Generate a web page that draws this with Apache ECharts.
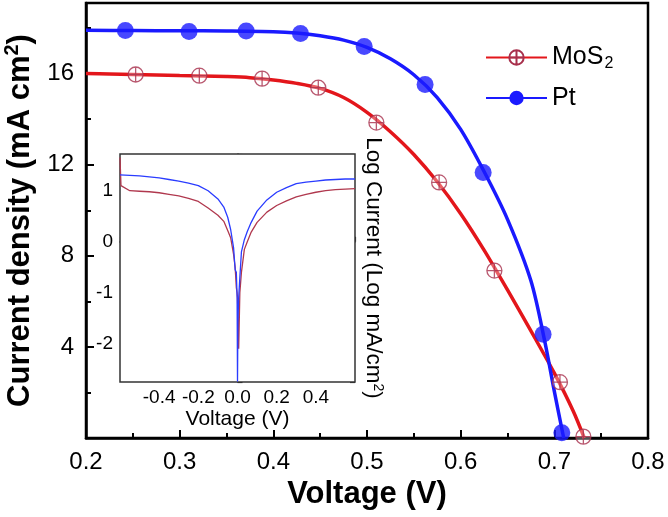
<!DOCTYPE html>
<html><head><meta charset="utf-8">
<script src="https://cdn.jsdelivr.net/npm/echarts@6/dist/echarts.min.js"></script>
<style>html,body{margin:0;padding:0;background:#fff}#c{width:668px;height:517px}</style>
</head><body><div id="c"></div>
<script>
// Main J-V fitted curves
const mosCurveV = [0.2,0.225,0.25,0.275,0.3,0.325,0.35,0.375,0.4,0.425,0.45,0.475,0.5,0.525,0.55,0.575,0.6,0.625,0.65,0.675,0.7,0.72,0.732];
const mosCurveJ = [16.0,15.98,15.96,15.94,15.92,15.9,15.87,15.82,15.72,15.57,15.35,14.95,14.3,13.45,12.45,11.25,9.85,8.25,6.5,4.7,2.85,1.2,0];
const ptCurveV = [0.2,0.25,0.3,0.35,0.4,0.425,0.45,0.475,0.5,0.525,0.55,0.575,0.6,0.625,0.65,0.675,0.69,0.7,0.71];
const ptCurveJ = [17.9,17.89,17.88,17.87,17.84,17.78,17.66,17.47,17.15,16.65,15.95,14.95,13.55,11.7,9.6,6.9,4.2,2.05,0];
// Main markers
const mosMarkV = [0.253,0.321,0.388,0.448,0.510,0.577,0.636,0.706,0.731];
const mosMarkJ = [15.96,15.91,15.78,15.38,13.85,11.22,7.35,2.45,0.06];
const ptMarkV = [0.242,0.310,0.371,0.429,0.497,0.562,0.624,0.688,0.708];
const ptMarkJ = [17.89,17.85,17.87,17.76,17.19,15.52,11.66,4.56,0.23];
// Inset log current curves
const insetV = [-0.6,-0.595,-0.55,-0.5,-0.45,-0.4,-0.35,-0.3,-0.25,-0.2,-0.15,-0.1,-0.07,-0.05,-0.035,-0.02,-0.012,-0.006,-0.002,0,0.002,0.006,0.012,0.02,0.035,0.05,0.07,0.1,0.15,0.2,0.25,0.3,0.35,0.4,0.45,0.5,0.55,0.6];
const insetPt = [1.31,1.31,1.30,1.29,1.27,1.25,1.22,1.19,1.15,1.10,1.00,0.84,0.68,0.48,0.24,-0.12,-0.55,-0.6,-1.1,-2.74,-1.6,-1.1,-0.7,-0.2,0.04,0.2,0.38,0.6,0.82,0.97,1.06,1.14,1.17,1.19,1.21,1.22,1.23,1.23];
const insetMoS = [1.65,1.1,1.0,0.99,0.98,0.96,0.93,0.9,0.85,0.79,0.66,0.52,0.40,0.22,0.08,-0.25,-0.5,-0.9,-1.0,-1.1,-1.5,-2.1,-1.0,-0.6,-0.15,0.0,0.19,0.38,0.58,0.71,0.8,0.88,0.93,0.97,1.0,1.02,1.03,1.04];
// Tick labels
const mainYLabels = [4,8,12,16];
const insetXLabels = [-0.4,-0.2,0,0.2,0.4];

const zip = (a,b) => a.map((v,i)=>[v,b[i]]);
const FONT = '"Liberation Sans", Arial, sans-serif';
const RED = '#e3161b', BLUE = '#1a1aff', MOSMK = '#a8304c';
const crossCircle = 'path://M0,-10A10,10,0,1,1,0,10A10,10,0,1,1,0,-10ZM-10,0L10,0M0,-10L0,10';

const chart = echarts.init(document.getElementById('c'));
chart.setOption({
  animation:false,
  backgroundColor:'#fff',
  textStyle:{fontFamily:FONT},
  legend:{
    orient:'vertical', left:480, top:40, itemWidth:61, itemHeight:18, itemGap:14,
    data:['MoS2','Pt'],
    formatter: n => n==='MoS2' ? '{a|MoS}{s|2}' : '{a|Pt}',
    textStyle:{fontFamily:FONT, color:'#000', fontSize:25,
      rich:{a:{fontSize:25, fontFamily:FONT, color:'#000'}, s:{fontSize:16, fontFamily:FONT, color:'#000', padding:[12,0,0,1]}}}
  },
  grid:[
    {left:86, top:3, right:20, bottom:79, show:true, borderColor:'#000', borderWidth:2.5, containLabel:false, outerBoundsMode:'none'},
    {left:120, top:154, right:313, bottom:135, show:true, borderColor:'#333', borderWidth:1.5, backgroundColor:'#fff', z:10, containLabel:false, outerBoundsMode:'none'}
  ],
  xAxis:[
    {gridIndex:0, type:'value', min:0.2, max:0.8, interval:0.1,
     name:'Voltage (V)', nameLocation:'middle', nameGap:37,
     nameTextStyle:{fontSize:31, fontWeight:'bold', fontFamily:FONT, color:'#000'},
     axisLine:{show:true, lineStyle:{color:'#000', width:2.5}},
     axisTick:{inside:true, length:8, lineStyle:{color:'#000', width:2}},
     minorTick:{show:true, splitNumber:2, length:5, lineStyle:{color:'#000', width:2}},
     splitLine:{show:false},
     axisLabel:{fontSize:24, color:'#000', margin:12, fontFamily:FONT, formatter:v=>v.toFixed(1)}},
    {gridIndex:1, type:'value', min:-0.6, max:0.6, interval:0.2,
     name:'Voltage (V)', nameLocation:'middle', nameGap:27,
     nameTextStyle:{fontSize:21, fontFamily:FONT, color:'#000'},
     axisLine:{show:true, lineStyle:{color:'#333', width:1.5}},
     axisTick:{inside:true, length:5, lineStyle:{color:'#333', width:1.2}},
     minorTick:{show:true, splitNumber:2, length:3, lineStyle:{color:'#333', width:1.2}},
     splitLine:{show:false},
     axisLabel:{fontSize:19, color:'#000', margin:6, fontFamily:FONT,
       formatter:v=>{const r=Math.round(v*10)/10; return insetXLabels.some(t=>Math.abs(t-r)<1e-6) ? r.toFixed(1) : '';}}}
  ],
  yAxis:[
    {gridIndex:0, type:'value', min:0, max:19.1, interval:4,
     name:'Current density (mA cm{p|2})', nameLocation:'middle', nameGap:45,
     nameTextStyle:{fontSize:31, fontWeight:'bold', fontFamily:FONT, color:'#000',
       rich:{p:{fontSize:20, fontWeight:'bold', fontFamily:FONT, color:'#000', padding:[0,0,16,0]}}},
     axisLine:{show:true, lineStyle:{color:'#000', width:2.5}},
     axisTick:{inside:true, length:8, lineStyle:{color:'#000', width:2}},
     minorTick:{show:true, splitNumber:2, length:5, lineStyle:{color:'#000', width:2}},
     splitLine:{show:false},
     axisLabel:{fontSize:24, color:'#000', margin:12, fontFamily:FONT,
       formatter:v=>mainYLabels.includes(v) ? String(v) : ''}},
    {gridIndex:1, type:'value', min:-2.75, max:1.72, splitNumber:4,
     axisLine:{show:true, lineStyle:{color:'#333', width:1.5}},
     axisTick:{inside:true, length:5, lineStyle:{color:'#333', width:1.2}},
     minorTick:{show:true, splitNumber:2, length:3, lineStyle:{color:'#333', width:1.2}},
     splitLine:{show:false},
     axisLabel:{fontSize:19, color:'#000', margin:7, fontFamily:FONT,
       formatter:v=>Number.isInteger(Math.round(v*1000)/1000) ? String(Math.round(v)) : ''}},
    {gridIndex:1, type:'value', min:-2.75, max:1.72, splitNumber:4, position:'right',
     name:'Log Current (Log mA/cm{p|2})', nameLocation:'middle', nameGap:6, nameRotate:-90,
     nameTextStyle:{fontSize:22.5, fontFamily:FONT, color:'#000',
       rich:{p:{fontSize:14, fontFamily:FONT, color:'#000', padding:[0,0,10,0]}}},
     axisLine:{show:false},
     axisTick:{inside:true, length:5, lineStyle:{color:'#333', width:1.2}},
     minorTick:{show:true, splitNumber:2, length:3, lineStyle:{color:'#333', width:1.2}},
     splitLine:{show:false},
     axisLabel:{show:false}}
  ],
  series:[
    {name:'MoS2', type:'line', xAxisIndex:0, yAxisIndex:0, data:zip(mosCurveV,mosCurveJ),
     smooth:0.3, showSymbol:false, symbol:crossCircle, symbolSize:14,
     lineStyle:{color:RED, width:3.5}, itemStyle:{color:'rgba(255,255,255,0.4)', borderColor:MOSMK, borderWidth:1.3}, z:2},
    {name:'Pt', type:'line', xAxisIndex:0, yAxisIndex:0, data:zip(ptCurveV,ptCurveJ),
     smooth:0.3, showSymbol:false, symbol:'circle', symbolSize:16,
     lineStyle:{color:BLUE, width:3.5}, itemStyle:{color:BLUE}, z:2},
    {name:'MoS2', type:'scatter', xAxisIndex:0, yAxisIndex:0, data:zip(mosMarkV,mosMarkJ),
     symbol:crossCircle, symbolSize:15, itemStyle:{color:'rgba(255,255,255,0.4)', borderColor:MOSMK, borderWidth:1.3}, z:4},
    {name:'Pt', type:'scatter', xAxisIndex:0, yAxisIndex:0, data:zip(ptMarkV,ptMarkJ),
     symbol:'circle', symbolSize:17, itemStyle:{color:BLUE}, z:4},
    {name:'inset MoS2', type:'line', xAxisIndex:1, yAxisIndex:1, data:zip(insetV,insetMoS),
     showSymbol:false, lineStyle:{color:'#b0384e', width:1.3}, z:11},
    {name:'inset Pt', type:'line', xAxisIndex:1, yAxisIndex:1, data:zip(insetV,insetPt),
     showSymbol:false, lineStyle:{color:'#2a3cff', width:1.3}, z:12}
  ]
});
</script></body></html>
